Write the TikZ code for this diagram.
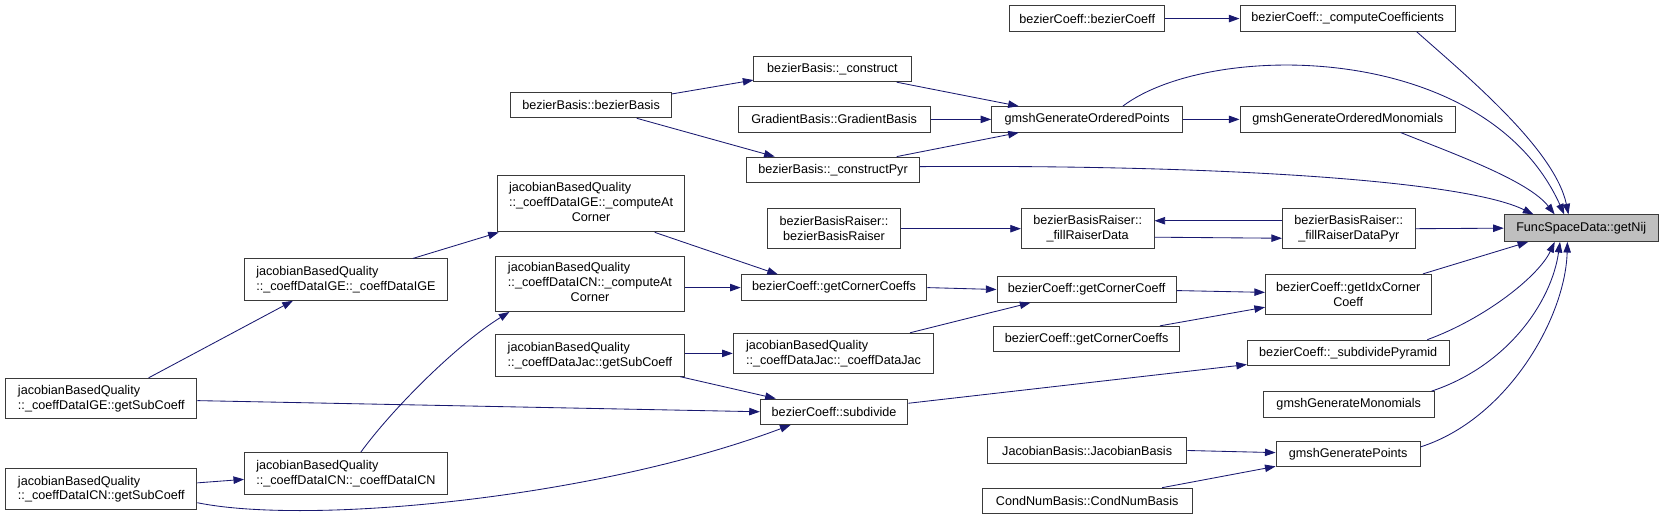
\documentclass[tikz,border=0pt]{standalone}
\usepackage{fontspec}
\setmainfont{Liberation Sans}
\usetikzlibrary{arrows.meta,positioning,calc}
\definecolor{callblue}{HTML}{191970}
\definecolor{boxline}{HTML}{3A3A3A}
\newcommand{\jbq}{jacobianBasedQuality}
\newcommand{\atcorner}[1]{\begin{tabular}{@{}l@{}}\jbq\\#1\\\multicolumn{1}{@{}c@{}}{Corner}\end{tabular}}
\tikzset{
  fn/.style={rectangle,draw=boxline,line width=0.9pt,anchor=west,
             minimum height=24pt,inner sep=0pt,align=center,
             font=\fontsize{11.9}{14}\selectfont},
  call/.style={-{Triangle[length=10pt,width=7pt]},line width=0.8pt,draw=callblue},
}

\begin{document}
\begin{tikzpicture}[
  x=1pt,y=-1pt,
  jq/.style={fn,align=left,minimum height=39pt},
  cur/.style={fn,fill=black!25,minimum height=25pt}
]
  \useasboundingbox (0,0) rectangle (1568,490);

  % callers of getNij
  \node[fn,minimum width=146pt] (BCBC) at (951,17.5) {bezierCoeff::bezierCoeff};
  \node[fn,minimum width=203pt] (CompCoef) at (1168,17.5) {bezierCoeff::\_computeCoefficients};
  \node[fn,minimum width=148pt] (Constr) at (710,65) {bezierBasis::\_construct};
  \node[fn,minimum width=151pt] (BBasis) at (481,99) {bezierBasis::bezierBasis};
  \node[fn,minimum width=181pt] (Grad) at (695,112.5) {GradientBasis::GradientBasis};
  \node[fn,minimum width=180pt] (GOP) at (934,112.5) {gmshGenerateOrderedPoints};
  \node[fn,minimum width=203pt] (GOM) at (1168,112.5) {gmshGenerateOrderedMonomials};
  \node[fn,minimum width=163pt] (Pyr) at (703,160) {bezierBasis::\_constructPyr};
  \node[fn,minimum width=177pt,minimum height=53pt] (IGECorner) at (468,192)
    {\atcorner{::\_coeffDataIGE::\_computeAt}};
  \node[fn,minimum width=125pt,minimum height=38pt] (BBR) at (723,215.5)
    {bezierBasisRaiser::\\bezierBasisRaiser};
  \node[fn,minimum width=125pt,minimum height=38pt] (FRD) at (962,215.5)
    {bezierBasisRaiser::\\\_fillRaiserData};
  \node[fn,minimum width=125pt,minimum height=38pt] (FRDP) at (1208,215.5)
    {bezierBasisRaiser::\\\_fillRaiserDataPyr};
  \node[cur,minimum width=145pt] (GetNij) at (1417,215) {FuncSpaceData::getNij};
  \node[jq,minimum width=191pt] (IGECoef) at (230,263.5)
    {\jbq\\::\_coeffDataIGE::\_coeffDataIGE};
  \node[fn,minimum width=179pt,minimum height=52pt] (ICNCorner) at (466,267.5)
    {\atcorner{::\_coeffDataICN::\_computeAt}};
  \node[fn,minimum width=175pt] (GCCs) at (698,271) {bezierCoeff::getCornerCoeffs};
  \node[fn,minimum width=169pt] (GCC) at (939,272.8) {bezierCoeff::getCornerCoeff};
  \node[fn,minimum width=156pt,minimum height=38pt] (Idx) at (1192,277.5)
    {bezierCoeff::getIdxCorner\\Coeff};
  \node[fn,minimum width=175pt] (GCCs2) at (936,319.5) {bezierCoeff::getCornerCoeffs};
  \node[jq,minimum width=179pt] (JacSub) at (466,335)
    {\jbq\\::\_coeffDataJac::getSubCoeff};
  \node[jq,minimum width=189pt,minimum height=38pt] (JacCoef) at (690.5,333)
    {\jbq\\::\_coeffDataJac::\_coeffDataJac};
  \node[fn,minimum width=190pt] (SubPyr) at (1175,332.5) {bezierCoeff::\_subdividePyramid};
  \node[fn,minimum width=139pt] (Subdiv) at (716,388) {bezierCoeff::subdivide};
  \node[jq,minimum width=180pt,minimum height=38pt] (IGESub) at (5,375.5)
    {\jbq\\::\_coeffDataIGE::getSubCoeff};
  \node[fn,minimum width=161pt] (GMono) at (1190,381) {gmshGenerateMonomials};
  \node[jq,minimum width=191pt] (ICNCoef) at (230,446)
    {\jbq\\::\_coeffDataICN::\_coeffDataICN};
  \node[fn,minimum width=188pt] (JacB) at (930,424.5) {JacobianBasis::JacobianBasis};
  \node[fn,minimum width=136pt] (GPts) at (1202,428) {gmshGeneratePoints};
  \node[fn,minimum width=198pt] (CondNum) at (925,472) {CondNumBasis::CondNumBasis};
  \node[jq,minimum width=180pt] (ICNSub) at (5,461)
    {\jbq\\::\_coeffDataICN::getSubCoeff};

  % top part
  \draw[call] (BCBC.east) -- (CompCoef.west);
  \draw[call] ([xshift=167pt]CompCoef.south west) .. controls (1380,70) and (1465,140)
    .. ([xshift=61pt]GetNij.north west);
  \draw[call] ([yshift=-2pt]BBasis.north east) -- ([yshift=2pt]Constr.south west);
  \draw[call] ([xshift=119pt]BBasis.south west) -- ([xshift=27pt]Pyr.north west);
  \draw[call] ([xshift=135pt]Constr.south west) -- ([xshift=26pt]GOP.north west);
  \draw[call] (Grad.east) -- (GOP.west);
  \draw[call] ([xshift=142pt]Pyr.north west) -- ([xshift=26pt]GOP.south west);
  \draw[call] ([xshift=124pt]GOP.north west) .. controls (1140,38) and (1400,38)
    .. ([xshift=57pt]GetNij.north west);
  \draw[call] (GOP.east) -- (GOM.west);
  \draw[call] ([xshift=152pt]GOM.south west) .. controls (1370,145) and (1440,170)
    .. ([xshift=48pt]GetNij.north west);
  \draw[call] ([yshift=3pt]Pyr.east) .. controls (1150,155) and (1380,170)
    .. ([xshift=28pt]GetNij.north west);

  % raiser row
  \draw[call] (BBR.east) -- (FRD.west);
  \draw[call] ([yshift=7.5pt]FRDP.west) -- ([yshift=7.5pt]FRD.east);
  \draw[call] ([yshift=-8pt]FRD.east) -- ([yshift=-9pt]FRDP.west);
  \draw[call] (FRDP.east) -- (GetNij.west);

  % corner coefficients
  \draw[call] ([xshift=135pt]IGESub.north west) -- ([xshift=46pt]IGECoef.south west);
  \draw[call] ([xshift=159pt]IGECoef.north west) -- ([xshift=2pt]IGECorner.south west);
  \draw[call] ([xshift=149pt]IGECorner.south west) -- ([xshift=35pt]GCCs.north west);
  \draw[call] (ICNCorner.east |- GCCs.west) -- (GCCs.west);
  \draw[call] (GCCs.east) -- (GCC.west);
  \draw[call] ([yshift=-1pt]GCC.east) -- ([yshift=2pt]Idx.west);
  \draw[call] ([xshift=157pt]GCCs2.north west) -- ([yshift=-12pt]Idx.west);
  \draw[call] ([xshift=-8pt]Idx.north east) -- ([xshift=23pt]GetNij.south west);
  \draw[call] (JacSub.east |- JacCoef.west) -- (JacCoef.west);
  \draw[call] ([xshift=167pt]JacCoef.north west) -- ([xshift=32pt]GCC.south west);

  % subdivision
  \draw[call] ([xshift=-5pt]JacSub.south east) -- ([xshift=15pt]Subdiv.north west);
  \draw[call] ([yshift=-2pt]IGESub.east) -- (Subdiv.west);
  \draw[call] ([yshift=6pt]ICNSub.east) -- ([yshift=-5.7pt]ICNCoef.west);
  \draw[call] ([yshift=-12.7pt]ICNSub.east) .. controls (290,495) and (560,470)
    .. ([xshift=29pt]Subdiv.south west);
  \draw[call] ([xshift=110pt]ICNCoef.north west) .. controls (370,385) and (430,325)
    .. ([xshift=14pt]ICNCorner.south west);
  \draw[call] ([yshift=8pt]Subdiv.east) -- ([yshift=-11pt]SubPyr.west);
  \draw[call] ([xshift=170pt]SubPyr.north west) .. controls (1400,300) and (1450,260)
    .. ([xshift=48pt]GetNij.south west);
  \draw[call] ([xshift=159pt]GMono.north west) .. controls (1420,345) and (1462,285)
    .. ([xshift=53pt]GetNij.south west);
  \draw[call] ([yshift=7pt]GPts.east) .. controls (1420,395) and (1475,300)
    .. ([xshift=60pt]GetNij.south west);
  \draw[call] (JacB.east) -- ([yshift=1.5pt]GPts.west);
  \draw[call] ([xshift=170pt]CondNum.north west) -- ([yshift=1pt]GPts.south west);
\end{tikzpicture}
\end{document}
